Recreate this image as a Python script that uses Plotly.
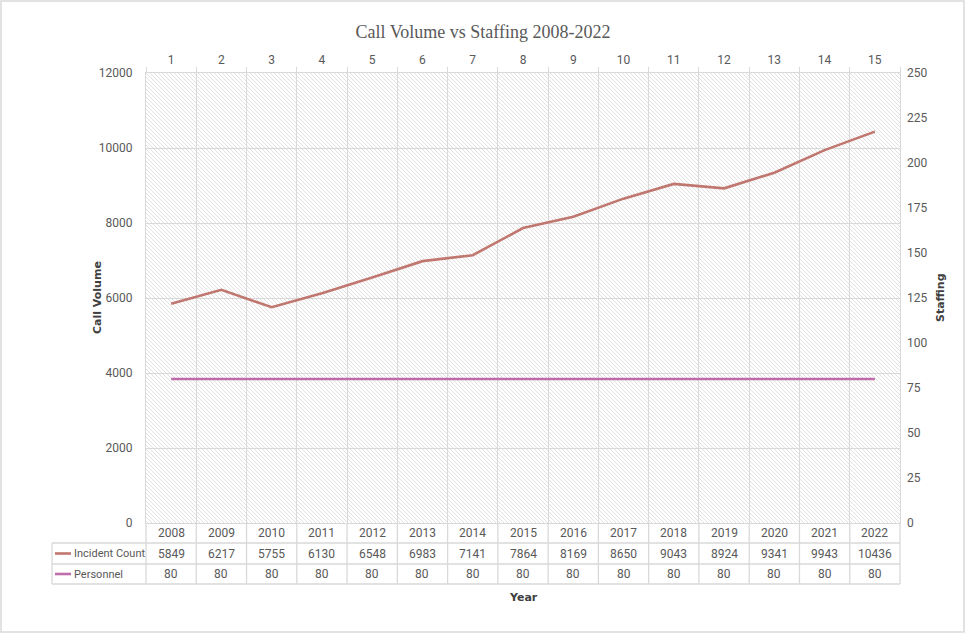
import base64
import plotly.graph_objects as go

# données du graphique
years = ["2008", "2009", "2010", "2011", "2012", "2013", "2014", "2015",
         "2016", "2017", "2018", "2019", "2020", "2021", "2022"]
top_ticks = list(range(1, 16))
incident_count = [5849, 6217, 5755, 6130, 6548, 6983, 7141, 7864,
                  8169, 8650, 9043, 8924, 9341, 9943, 10436]
personnel = [80] * 15

# géométrie (pixels) de la zone de tracé
W, H = 966, 634
L, R, T, B = 146, 900, 73, 523

GRID = "#d9d9d9"
TXT = "#595959"
C_INC = "#C0776F"
C_PER = "#BF6DAA"
FONT = dict(family="Roboto", size=12, color=TXT)
LABEL_FONT = dict(family="Roboto", size=11, color=TXT)
TITLE_FONT = dict(family="DejaVu Sans", size=11, color="#404040")


def py_p(py):
    # pixel -> coordonnée paper verticale
    return (B - py) / (B - T)


def px_p(px):
    # pixel -> coordonnée paper horizontale
    return (px - L) / (R - L)


fig = go.Figure()

fig.add_trace(go.Scatter(x=years, y=incident_count, mode="lines", name="Incident Count",
                         line=dict(color=C_INC, width=2.6), xaxis="x", yaxis="y"))
fig.add_trace(go.Scatter(x=top_ticks, y=personnel, mode="lines", name="Personnel",
                         line=dict(color=C_PER, width=2.6), xaxis="x2", yaxis="y2"))

# fond hachuré (motif diagonal) en image svg
pw, ph = R - L, B - T
svg = (f'<svg xmlns="http://www.w3.org/2000/svg" width="{pw}" height="{ph}" viewBox="0 0 {pw} {ph}">'
       '<defs><pattern id="h" width="4" height="4" patternUnits="userSpaceOnUse">'
       '<path d="M-1,-1 L5,5 M-1,3 L1,5 M3,-1 L5,1" stroke="#dedede" stroke-width="0.9"/>'
       '</pattern></defs><rect width="100%" height="100%" fill="url(#h)"/></svg>')
src = "data:image/svg+xml;base64," + base64.b64encode(svg.encode()).decode()
fig.add_layout_image(dict(source=src, xref="paper", yref="paper", x=0, y=1,
                          sizex=1, sizey=1, xanchor="left", yanchor="top",
                          sizing="stretch", layer="below"))

line_style = dict(color=GRID, width=1.3)
shapes = []
# tableau de données : lignes horizontales
for py in [543, 564, 584]:
    shapes.append(dict(type="line", xref="paper", yref="paper", x0=px_p(52), x1=1,
                       y0=py_p(py), y1=py_p(py), line=line_style))
# lignes verticales des colonnes
for i in range(len(years) + 1):
    x = i / len(years)
    shapes.append(dict(type="line", xref="paper", yref="paper", x0=x, x1=x,
                       y0=0, y1=py_p(584), line=line_style))
shapes.append(dict(type="line", xref="paper", yref="paper", x0=px_p(52), x1=px_p(52),
                   y0=py_p(543), y1=py_p(584), line=line_style))
# clés de légende dans le tableau
for py, c in [(553.5, C_INC), (574, C_PER)]:
    shapes.append(dict(type="line", xref="paper", yref="paper", x0=px_p(55), x1=px_p(71),
                       y0=py_p(py), y1=py_p(py), line=dict(color=c, width=2.6)))
# cadre du graphique
shapes.append(dict(type="rect", xref="paper", yref="paper", x0=px_p(1), x1=px_p(964),
                   y0=py_p(632), y1=py_p(1), line=dict(color=GRID, width=1.5)))


def note(text, px, py, xanchor="center", font=FONT, angle=0):
    return dict(text=text, x=px_p(px), y=py_p(py), xref="paper", yref="paper",
                xanchor=xanchor, yanchor="middle", showarrow=False, font=font,
                textangle=angle)


annotations = []
col_w = (R - L) / len(years)
for i, yr in enumerate(years):
    cx = L + (i + 0.5) * col_w
    annotations.append(note(yr, cx, 533))
    annotations.append(note(str(incident_count[i]), cx, 553.5))
    annotations.append(note(str(personnel[i]), cx, 574))
annotations.append(note("Incident Count", 72, 553.5, xanchor="left", font=LABEL_FONT))
annotations.append(note("Personnel", 72, 574, xanchor="left", font=LABEL_FONT))
# titres des axes
annotations.append(note("<b>Year</b>", (L + R) / 2, 597, font=TITLE_FONT))
annotations.append(note("<b>Call Volume</b>", 97, 298, font=TITLE_FONT, angle=-90))
annotations.append(note("<b>Staffing</b>", 940, 298, font=TITLE_FONT, angle=-90))

fig.update_layout(
    width=W, height=H,
    margin=dict(l=L, r=W - R, t=T, b=H - B),
    paper_bgcolor="white", plot_bgcolor="white",
    showlegend=False,
    title=dict(text="Call Volume vs Staffing 2008-2022", x=0.5, xanchor="center",
               y=1 - 32 / H, yanchor="middle",
               font=dict(family="Liberation Serif", size=18, color=TXT)),
    xaxis=dict(type="category", range=[-0.5, 14.5], showticklabels=False, showgrid=False,
               ticks="", showline=True, linecolor=GRID, mirror=True, zeroline=False),
    xaxis2=dict(overlaying="x", side="top", range=[0.5, 15.5], tickvals=top_ticks,
                showgrid=False, ticks="", ticklabelstandoff=6, zeroline=False,
                tickfont=FONT,
                minor=dict(tick0=0.5, dtick=1, showgrid=True, gridcolor=GRID, gridwidth=1.3,
                           ticks="outside", ticklen=5, tickcolor=GRID)),
    yaxis=dict(range=[0, 12000], dtick=2000, tickformat="d", showgrid=True, gridcolor=GRID,
               gridwidth=1.3, zeroline=False, ticks="", ticklabelstandoff=10,
               showline=True, linecolor=GRID, mirror=True, tickfont=FONT),
    yaxis2=dict(overlaying="y", side="right", range=[0, 250], dtick=25, showgrid=False,
                zeroline=False, ticks="", ticklabelstandoff=6, tickfont=FONT),
    shapes=shapes,
    annotations=annotations,
)

fig.write_html("out.html", config={"displayModeBar": False},
               post_script="document.body.style.margin='0';document.body.style.overflow='hidden';")
